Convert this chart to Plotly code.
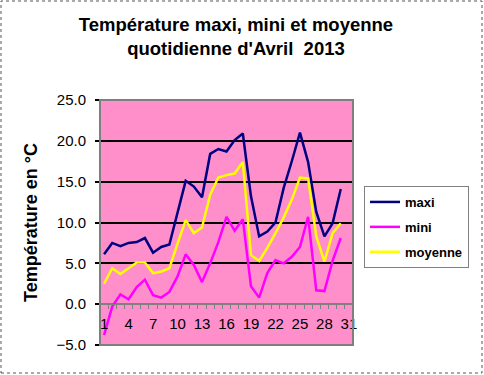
import plotly.graph_objects as go

days = list(range(1, 31))
maxi = [6.1, 7.5, 7.1, 7.5, 7.6, 8.1, 6.3, 7.0, 7.3, 11.1, 15.1, 14.4, 13.1, 18.4, 19.0, 18.7,
        20.1, 20.9, 13.2, 8.3, 8.9, 10.0, 14.2, 17.5, 21.0, 17.4, 11.3, 8.3, 9.9, 14.1]
mini = [-3.8, -0.3, 1.2, 0.6, 2.1, 3.0, 1.1, 0.8, 1.5, 3.4, 6.1, 4.8, 2.7, 5.0, 7.6, 10.7,
        9.0, 10.4, 2.2, 0.8, 3.8, 5.4, 5.0, 5.8, 7.0, 10.7, 1.7, 1.6, 5.3, 8.1]
moyenne = [2.5, 4.4, 3.7, 4.4, 5.1, 5.1, 3.8, 4.0, 4.4, 7.4, 10.3, 8.7, 9.4, 13.4, 15.5, 15.8,
           16.0, 17.4, 6.0, 5.3, 6.9, 8.7, 10.6, 12.8, 15.5, 15.4, 8.3, 5.2, 8.7, 9.9]
x_tickvals = [1, 4, 7, 10, 13, 16, 19, 22, 25, 28, 31]
x_ticktext = [str(v) for v in x_tickvals]
y_tickvals = [-5, 0, 5, 10, 15, 20, 25]

W, H = 484, 375
ML, MR, MT, MB = 100, 131, 100, 30
FONT = "Arial, Liberation Sans, sans-serif"

fig = go.Figure()
for name, vals, col, grp in [("maxi", maxi, "#000080", "a"),
                             ("mini", mini, "#FF00FF", "b"),
                             ("moyenne", moyenne, "#FFFF00", "c")]:
    fig.add_trace(go.Scatter(x=days, y=vals, mode="lines", name="<b>" + name + "</b>",
                             legendgroup=grp, line=dict(color=col, width=2.5)))

pw = W - ML - MR
ph = H - MT - MB
fig.add_shape(type="rect", xref="paper", yref="paper",
              x0=-(ML - 1) / pw, x1=1 + (MR - 2) / pw, y0=-(MB - 2) / ph, y1=1 + (MT - 1) / ph,
              line=dict(color="#555555", width=1, dash="dot"), layer="above")
fig.add_shape(type="rect", xref="paper", yref="paper", x0=0, x1=1, y0=0, y1=1,
              line=dict(color="#7f7f7f", width=2), layer="above")

fig.update_layout(
    width=W, height=H,
    margin=dict(l=ML, r=MR, t=MT, b=MB, autoexpand=False),
    paper_bgcolor="white",
    plot_bgcolor="#FF8FCB",
    font=dict(family=FONT, color="black"),
    title=dict(text="<b>Température maxi, mini et moyenne<br>quotidienne d'Avril  2013</b>",
               x=236 / W, xref="container", xanchor="center", y=1 - 31 / H, yanchor="top",
               font=dict(size=18.5, family=FONT)),
    showlegend=True,
    legend=dict(x=(364 - ML) / pw, y=1 - (186 - MT) / ph, xanchor="left", yanchor="top",
                bordercolor="#808080", borderwidth=1, bgcolor="white",
                font=dict(size=13, family=FONT), traceorder="grouped", tracegroupgap=5,
                itemwidth=30),
    xaxis=dict(range=[0.5, 31.5], tickvals=x_tickvals, ticktext=x_ticktext,
               tickfont=dict(size=15, family=FONT, color="black"),
               ticks="", showgrid=False, zeroline=False,
               showline=True, linecolor="#808080", linewidth=1,
               anchor="free", position=5 / 30, ticklabelstandoff=6,
               tickprefix="<b>", ticksuffix="</b>",
               minor=dict(ticks="outside", tick0=0.5, dtick=1, ticklen=4,
                          tickcolor="#808080", tickwidth=1, showgrid=False)),
    yaxis=dict(range=[-5, 25], tickvals=y_tickvals, tickformat=".1f",
               tickprefix="<b>", ticksuffix="</b>",
               tickfont=dict(size=15, family=FONT, color="black"),
               showgrid=True, gridcolor="black", gridwidth=2,
               zeroline=True, zerolinecolor="#808080", zerolinewidth=2,
               ticks="outside", ticklen=4, tickcolor="black", tickwidth=2,
               ticklabelstandoff=6,
               title=dict(text="<b>Température en °C</b>", standoff=14,
                          font=dict(size=18, family=FONT))),
)

fig.write_html("out.html", config={"displayModeBar": False},
               post_script="document.body.style.margin='0';")
